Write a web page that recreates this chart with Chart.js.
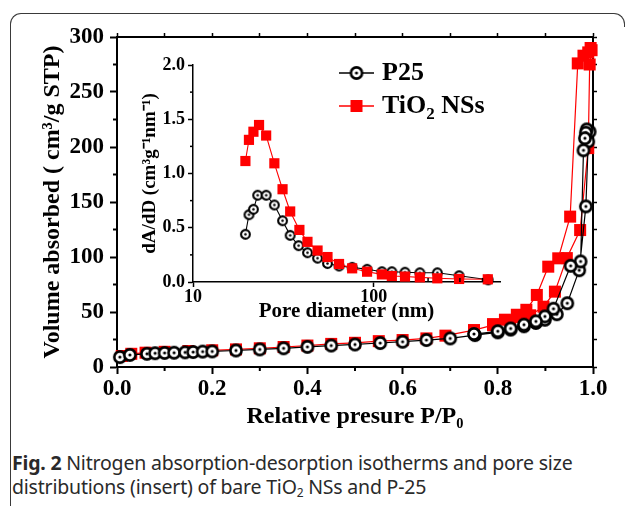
<!DOCTYPE html>
<html>
<head>
<meta charset="utf-8">
<script src="https://cdn.jsdelivr.net/npm/chart.js@4.4.1/dist/chart.umd.min.js"></script>
<style>
  body { margin: 0; background: #fff; }
  #wrap { position: relative; width: 629px; height: 506px; overflow: hidden; }
  #main { position: absolute; left: 0; top: 0; }
  #inset { position: absolute; left: 120px; top: 40px; }
  .frame { position: absolute; border: 0 solid #3a3a3a; box-sizing: border-box; }
  #frameL { left: 10px; top: 13px; width: 592px; height: 500px; border-top-width: 1.5px; border-left-width: 1.5px; border-top-left-radius: 11px; }
  #frameR { left: 600px; top: 13px; width: 25px; height: 14px; border-top-width: 1.5px; border-right-width: 1.5px; border-top-right-radius: 11px; }
  #caption { position: absolute; left: 12px; top: 451px; font: 19.5px 'Noto Sans', sans-serif; line-height: 24px; color: #2a2a2a; white-space: nowrap; letter-spacing: -0.2px; }
  #caption sub { font-size: 12px; vertical-align: -3px; line-height: 0; }
</style>
</head>
<body>
<div id="wrap">
  <div class="frame" id="frameL"></div>
  <div class="frame" id="frameR"></div>
  <canvas id="main" width="629" height="445"></canvas>
  <canvas id="inset" width="400" height="290"></canvas>
  <div id="caption"><b>Fig. 2</b> Nitrogen absorption-desorption isotherms and pore size<br>distributions (insert) of bare TiO<sub>2</sub> NSs and P-25</div>
</div>
<script>
// ---------- isotherm data (adsorption branch, then desorption) ----------
const p25Pressure = [0.006, 0.027, 0.063, 0.08, 0.10, 0.12, 0.143, 0.16, 0.18, 0.20, 0.25, 0.30, 0.35, 0.40,
    0.45, 0.50, 0.553, 0.60, 0.65, 0.70, 0.752, 0.80, 0.827, 0.855, 0.88, 0.899, 0.924, 0.946, 0.971, 0.985,
    0.99, 0.993, 0.987, 0.985, 0.983, 0.98, 0.974, 0.953, 0.917, 0.899, 0.88, 0.855, 0.827, 0.80, 0.75];
const p25Volume = [9, 11, 12, 12.5, 12.8, 13, 13.3, 13.6, 14, 14.2, 15, 16, 17, 18.3,
    19.5, 20.5, 21.8, 23, 24.5, 26, 29, 31.5, 34, 37, 40, 43, 48, 58, 88, 146,
    205, 214, 216, 213, 208, 197, 96, 92, 53, 46, 41.5, 38.5, 35, 32.5, 30];

const tioPressure = [0.01, 0.03, 0.06, 0.10, 0.15, 0.20, 0.25, 0.30, 0.35, 0.40, 0.45, 0.50, 0.55, 0.60,
    0.65, 0.69, 0.75, 0.79, 0.826, 0.847, 0.868, 0.896, 0.92, 0.945, 0.973, 0.99, 0.993, 0.997,
    0.995, 0.99, 0.98, 0.968, 0.952, 0.927, 0.906, 0.882, 0.86, 0.84, 0.815, 0.79];
const tioVolume = [10, 12, 13, 13.8, 14.5, 15.2, 16, 17, 18.2, 19.5, 21, 22, 23.5, 24.5,
    26, 28.5, 33.6, 38, 42, 45.5, 47, 54.8, 68.5, 99, 124.5, 199, 275, 288,
    290, 286, 283, 276, 136.7, 98.8, 91.2, 65.5, 52, 47.5, 43, 39];

// ---------- pore size distribution (inset) ----------
const poreP25 = [19.5, 20.4, 21.6, 22.8, 25.4, 28.2, 31.3, 34.5, 38.4, 43, 48.9, 55.5, 64.3, 76, 91.9,
    111, 126, 149, 180, 225, 297, 430];
const distP25 = [0.44, 0.62, 0.67, 0.80, 0.80, 0.71, 0.565, 0.43, 0.335, 0.27, 0.22, 0.17, 0.147, 0.135, 0.117,
    0.095, 0.095, 0.09, 0.085, 0.085, 0.058, 0.02];
const poreTio = [19.5, 20.4, 21.6, 23.2, 25.4, 28.2, 31.3, 34.5, 38.8, 43, 48.9, 55.5, 64.3, 76, 91.9,
    111, 126, 149, 180, 225, 297, 428];
const distTio = [1.115, 1.31, 1.385, 1.447, 1.35, 1.094, 0.855, 0.65, 0.48, 0.37, 0.29, 0.23, 0.166, 0.126, 0.095,
    0.07, 0.055, 0.05, 0.043, 0.034, 0.028, 0.025];

// ---------- ticks ----------
const mainMinorX = [0.1, 0.3, 0.5, 0.7, 0.9];
const mainMinorY = [25, 75, 125, 175, 225, 275];
const insetMajorX = [10, 100];
const insetMinorX = [200, 300, 400];
const insetMinorY = [0.25, 0.75, 1.25, 1.75];

const SERIF = "'Liberation Serif', 'Times New Roman', serif";
const RED = '#ff0000';

function toPoints(xs, ys) {
    return xs.map((x, i) => ({ x: x, y: ys[i] }));
}

// open circle with a dot in the middle
function ringDot(r, lw) {
    const c = document.createElement('canvas');
    const s = Math.ceil(2 * r + lw + 2);
    c.width = s;
    c.height = s;
    const g = c.getContext('2d');
    g.beginPath();
    g.arc(s / 2, s / 2, r, 0, Math.PI * 2);
    g.fillStyle = '#fff';
    g.fill();
    g.lineWidth = lw;
    g.strokeStyle = '#000';
    g.stroke();
    g.beginPath();
    g.arc(s / 2, s / 2, lw * 0.6, 0, Math.PI * 2);
    g.fillStyle = '#000';
    g.fill();
    return c;
}

const ringBig = ringDot(5.6, 2.6);
const ringSmall = ringDot(4.4, 2.1);

// short minor tick marks drawn through the scales
const minorTicks = {
    id: 'minorTicks',
    afterDraw(chart, args, opts) {
        const ctx = chart.ctx;
        ctx.save();
        ctx.strokeStyle = '#000';
        ctx.lineWidth = opts.width || 2;
        (opts.marks || []).forEach(m => {
            const scale = chart.scales[m.axis];
            m.values.forEach(v => {
                const p = scale.getPixelForValue(v);
                ctx.beginPath();
                if (scale.isHorizontal()) {
                    ctx.moveTo(p, scale.top);
                    ctx.lineTo(p, scale.top + m.len);
                } else {
                    ctx.moveTo(scale.right, p);
                    ctx.lineTo(scale.right - m.len, p);
                }
                ctx.stroke();
            });
        });
        ctx.restore();
    }
};

// legend in the upper middle of the plot
const isoLegend = {
    id: 'isoLegend',
    afterDraw(chart) {
        const ctx = chart.ctx;
        const a = chart.chartArea;
        const x0 = a.left + 222, x1 = a.left + 257, xt = a.left + 265;
        const rows = [a.top + 36, a.top + 69];
        ctx.save();
        ctx.lineWidth = 1.3;
        // P25
        ctx.strokeStyle = '#000';
        ctx.beginPath();
        ctx.moveTo(x0, rows[0]);
        ctx.lineTo(x1, rows[0]);
        ctx.stroke();
        ctx.drawImage(ringBig, (x0 + x1) / 2 - ringBig.width / 2, rows[0] - ringBig.height / 2);
        // TiO2 NSs
        ctx.strokeStyle = RED;
        ctx.beginPath();
        ctx.moveTo(x0, rows[1]);
        ctx.lineTo(x1, rows[1]);
        ctx.stroke();
        ctx.fillStyle = RED;
        ctx.fillRect((x0 + x1) / 2 - 6, rows[1] - 6, 12, 12);

        ctx.fillStyle = '#000';
        ctx.textBaseline = 'middle';
        ctx.font = 'bold 26px ' + SERIF;
        ctx.fillText('P25', xt, rows[0]);
        ctx.fillText('TiO', xt, rows[1]);
        let w = ctx.measureText('TiO').width;
        ctx.font = 'bold 17px ' + SERIF;
        ctx.fillText('2', xt + w, rows[1] + 9);
        w += ctx.measureText('2').width;
        ctx.font = 'bold 26px ' + SERIF;
        ctx.fillText(' NSs', xt + w, rows[1]);
        ctx.restore();
    }
};

function fixSize(dim, size) {
    return scale => { scale[dim] = size; };
}

// ---------- main isotherm chart ----------
new Chart(document.getElementById('main'), {
    type: 'scatter',
    data: {
        datasets: [
            {
                label: 'P25',
                data: toPoints(p25Pressure, p25Volume),
                showLine: true,
                borderColor: '#000',
                borderWidth: 1.2,
                pointStyle: ringBig,
                clip: false
            },
            {
                label: 'TiO2 NSs',
                data: toPoints(tioPressure, tioVolume),
                showLine: true,
                borderColor: RED,
                borderWidth: 1.2,
                pointStyle: 'rect',
                pointRadius: 8.5,
                pointBackgroundColor: RED,
                pointBorderColor: RED,
                pointBorderWidth: 0,
                clip: false
            }
        ]
    },
    options: {
        responsive: false,
        animation: false,
        layout: { padding: { left: 0, top: 31, right: 30, bottom: 0 } },
        plugins: {
            legend: { display: false },
            tooltip: { enabled: false },
            minorTicks: {
                width: 2,
                marks: [
                    { axis: 'x', values: mainMinorX, len: 4 },
                    { axis: 'y', values: mainMinorY, len: 4 }
                ]
            }
        },
        scales: {
            x: {
                type: 'linear',
                position: 'bottom',
                min: 0,
                max: 1,
                afterFit: fixSize('height', 78),
                grid: { drawOnChartArea: false, tickLength: 7, tickWidth: 2, tickColor: '#000' },
                border: { color: '#000', width: 2 },
                ticks: {
                    stepSize: 0.2,
                    padding: 1,
                    color: '#000',
                    font: { family: SERIF, size: 23, weight: 'bold' },
                    callback: v => v.toFixed(1)
                },
                title: {
                    display: true,
                    text: 'Relative presure P/P\u2080',
                    color: '#000',
                    font: { family: SERIF, size: 24, weight: 'bold' },
                    padding: { top: 0, bottom: 13.6 }
                }
            },
            x2: {
                type: 'linear',
                position: 'top',
                min: 0,
                max: 1,
                afterFit: fixSize('height', 6),
                grid: { drawOnChartArea: false, tickLength: 4, tickWidth: 1.5, tickColor: '#000' },
                border: { color: '#000', width: 2 },
                ticks: { display: false, stepSize: 0.1 }
            },
            y: {
                position: 'left',
                min: 0,
                max: 300,
                afterFit: fixSize('width', 117),
                grid: { drawOnChartArea: false, tickLength: 7, tickWidth: 2, tickColor: '#000' },
                border: { color: '#000', width: 2 },
                ticks: {
                    stepSize: 50,
                    padding: 6,
                    color: '#000',
                    font: { family: SERIF, size: 23, weight: 'bold' }
                },
                title: {
                    display: true,
                    text: 'Volume absorbed ( cm\u00b3/g STP)',
                    color: '#000',
                    font: { family: SERIF, size: 24, weight: 'bold' },
                    padding: { top: 38.6, bottom: 0 }
                }
            },
            y2: {
                position: 'right',
                min: 0,
                max: 300,
                afterFit: fixSize('width', 6),
                grid: { drawOnChartArea: false, tickLength: 4, tickWidth: 1.5, tickColor: '#000' },
                border: { color: '#000', width: 2 },
                ticks: { display: false, stepSize: 25 }
            }
        }
    },
    plugins: [minorTicks, isoLegend]
});

// ---------- inset: pore size distribution ----------
new Chart(document.getElementById('inset'), {
    type: 'scatter',
    data: {
        datasets: [
            {
                label: 'TiO2 NSs',
                data: toPoints(poreTio, distTio),
                showLine: true,
                borderColor: RED,
                borderWidth: 1.1,
                pointStyle: 'rect',
                pointRadius: 7.2,
                pointBackgroundColor: RED,
                pointBorderColor: RED,
                pointBorderWidth: 0,
                clip: false
            },
            {
                label: 'P25',
                data: toPoints(poreP25, distP25),
                showLine: true,
                borderColor: '#000',
                borderWidth: 1.1,
                pointStyle: ringSmall,
                clip: false
            }
        ]
    },
    options: {
        responsive: false,
        animation: false,
        layout: { padding: { left: 0, top: 25, right: 20, bottom: 0 } },
        plugins: {
            legend: { display: false },
            tooltip: { enabled: false },
            minorTicks: {
                width: 1.5,
                marks: [
                    { axis: 'x', values: insetMinorX, len: -4 },
                    { axis: 'y', values: insetMinorY, len: 3 }
                ]
            }
        },
        scales: {
            x: {
                type: 'logarithmic',
                min: 10,
                max: 500,
                afterFit: fixSize('height', 48),
                afterBuildTicks: scale => { scale.ticks = insetMajorX.map(v => ({ value: v })); },
                grid: { drawOnChartArea: false, tickLength: 5, tickWidth: 1.5, tickColor: '#000' },
                border: { color: '#000', width: 1.5 },
                ticks: {
                    padding: 0,
                    color: '#000',
                    autoSkip: false,
                    maxRotation: 0,
                    font: { family: SERIF, size: 18, weight: 'bold' },
                    callback: v => String(v)
                },
                title: {
                    display: true,
                    text: 'Pore diameter (nm)',
                    color: '#000',
                    font: { family: SERIF, size: 21, weight: 'bold' },
                    padding: { top: 0, bottom: 5.4 }
                }
            },
            y: {
                min: 0,
                max: 2,
                afterFit: fixSize('width', 73),
                grid: { drawOnChartArea: false, tickLength: 5, tickWidth: 1.5, tickColor: '#000' },
                border: { color: '#000', width: 1.5 },
                ticks: {
                    stepSize: 0.5,
                    padding: 3,
                    color: '#000',
                    font: { family: SERIF, size: 18, weight: 'bold' },
                    callback: v => v.toFixed(1)
                },
                title: {
                    display: true,
                    text: 'dA/dD (cm\u00b3g\u207b\u00b9nm\u207b\u00b9)',
                    color: '#000',
                    font: { family: SERIF, size: 19, weight: 'bold' },
                    padding: { top: 18.6, bottom: 0 }
                }
            }
        }
    },
    plugins: [minorTicks]
});
</script>
</body>
</html>
